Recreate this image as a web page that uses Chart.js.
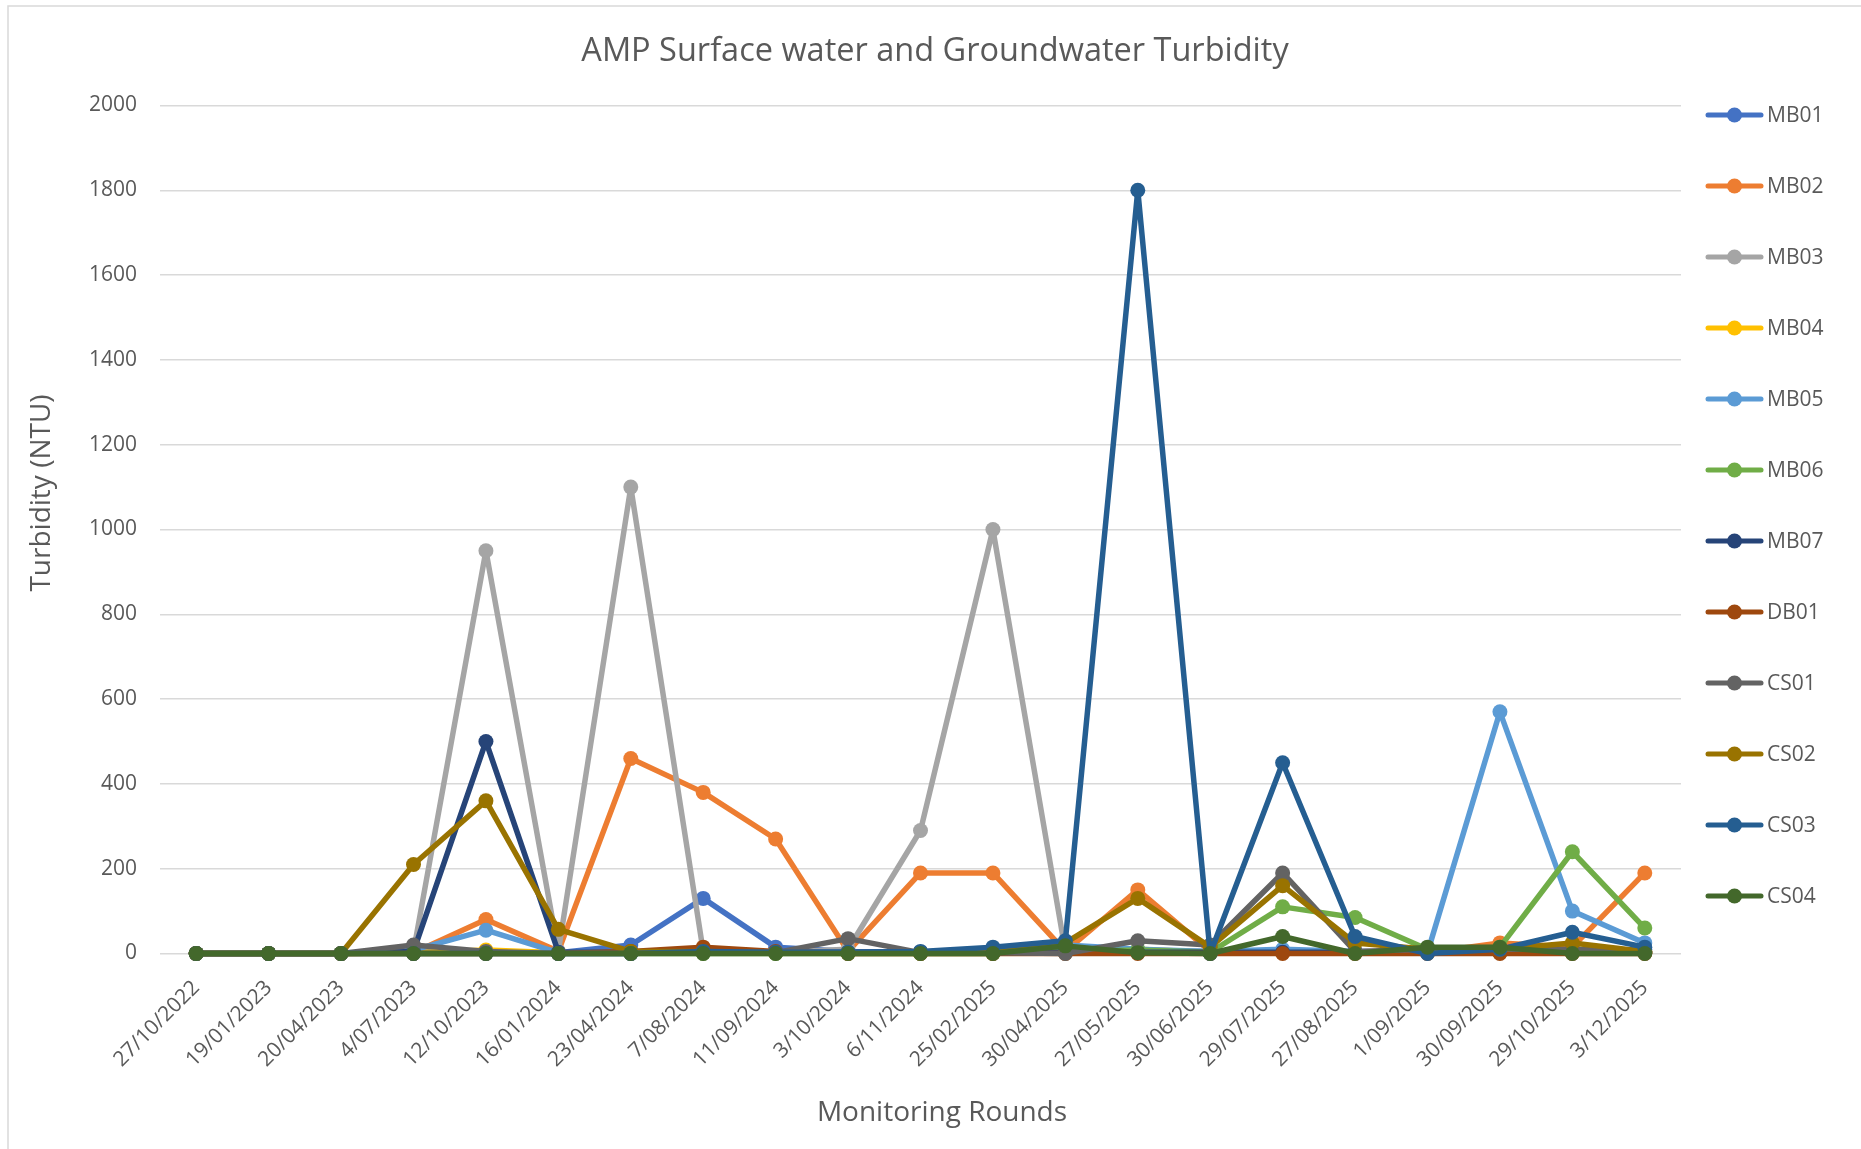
<!DOCTYPE html>
<html>
<head>
<meta charset="utf-8">
<title>AMP Surface water and Groundwater Turbidity</title>
<script src="https://cdn.jsdelivr.net/npm/chart.js@4.4.1/dist/chart.umd.min.js"></script>
<style>
    html, body { margin: 0; padding: 0; background: #fff; }
    #wrap { width: 1861px; height: 1149px; position: relative; }
</style>
</head>
<body>
<div id="wrap"><canvas id="chart"></canvas></div>
<script>
// --- data ---
const rounds = ['27/10/2022', '19/01/2023', '20/04/2023', '4/07/2023', '12/10/2023', '16/01/2024',
    '23/04/2024', '7/08/2024', '11/09/2024', '3/10/2024', '6/11/2024', '25/02/2025', '30/04/2025',
    '27/05/2025', '30/06/2025', '29/07/2025', '27/08/2025', '1/09/2025', '30/09/2025', '29/10/2025', '3/12/2025'];

const MB01 = [0, 0, 0, 5, 3, 2, 20, 130, 15, 5, 3, 5, 10, 5, 5, 5, 5, 3, 5, 5, 10];
const MB02 = [0, 0, 0, 2, 80, 5, 460, 380, 270, 5, 190, 190, 5, 150, 5, 2, 2, 2, 25, 15, 190];
const MB03 = [0, 0, 0, 5, 950, 5, 1100, 5, 3, 10, 290, 1000, 5, 5, 5, 5, 3, 3, 5, 5, 5];
const MB04 = [0, 0, 0, 2, 8, 2, 2, 2, 2, 2, 2, 2, 5, 10, 3, 3, 2, 2, 2, 2, 2];
const MB05 = [0, 0, 0, 8, 55, 2, 3, 3, 3, 3, 3, 5, 20, 10, 5, 10, 5, 2, 570, 100, 25];
const MB06 = [0, 0, 0, 0, 0, 0, 0, 0, 0, 0, 0, 0, 5, 8, 3, 110, 85, 10, 15, 240, 60];
const MB07 = [0, 0, 0, 5, 500, 3, 3, 3, 3, 3, 3, 3, 3, 3, 3, 3, 3, 3, 3, 3, 3];
const DB01 = [0, 0, 0, 0, 0, 0, 5, 15, 5, 0, 0, 0, 0, 0, 0, 0, 0, 0, 0, 0, 0];
const CS01 = [0, 0, 0, 20, 5, 0, 0, 5, 2, 35, 2, 2, 0, 30, 20, 190, 5, 10, 10, 10, 5];
const CS02 = [0, 0, 0, 210, 360, 57, 5, 5, 2, 2, 2, 2, 25, 130, 15, 160, 25, 10, 10, 25, 5];
const CS03 = [0, 0, 0, 0, 0, 0, 0, 5, 3, 3, 5, 15, 30, 1800, 0, 450, 40, 0, 10, 50, 15];
const CS04 = [0, 0, 0, 0, 0, 0, 0, 0, 0, 0, 0, 0, 18, 2, 0, 40, 0, 15, 15, 0, 0];

const seriesNames = ['MB01', 'MB02', 'MB03', 'MB04', 'MB05', 'MB06', 'MB07', 'DB01', 'CS01', 'CS02', 'CS03', 'CS04'];
const seriesData = [MB01, MB02, MB03, MB04, MB05, MB06, MB07, DB01, CS01, CS02, CS03, CS04];
const seriesColors = ['#4472C4', '#ED7D31', '#A5A5A5', '#FFC000', '#5B9BD5', '#70AD47',
    '#264478', '#9E480E', '#636363', '#997300', '#255E91', '#43682B'];

const yMin = 0, yMax = 2000, yStep = 200;

const chartTitle = 'AMP Surface water and Groundwater Turbidity';
const xTitle = 'Monitoring Rounds';
const yTitle = 'Turbidity (NTU)';

const FONT = '"Open Sans", "Segoe UI", "Noto Sans", sans-serif';
const TEXT = '#595959';
const GRID = '#d9d9d9';

// Excel-style frame, titles and legend (line + marker swatches)
const decorPlugin = {
    id: 'excelDecor',
    beforeDraw(chart) {
        const ctx = chart.ctx;
        ctx.save();
        ctx.fillStyle = '#fff';
        ctx.fillRect(0, 0, chart.width, chart.height);
        ctx.strokeStyle = GRID;
        ctx.lineWidth = 1.5;
        ctx.strokeRect(8, 6, chart.width + 20, chart.height + 20);
        ctx.restore();
    },
    afterDraw(chart) {
        const ctx = chart.ctx;
        ctx.save();
        ctx.fillStyle = TEXT;
        ctx.textAlign = 'center';
        ctx.textBaseline = 'middle';
        ctx.font = `32.5px ${FONT}`;
        ctx.fillText(chartTitle, 935, 52);
        ctx.font = `28px ${FONT}`;
        ctx.fillText(xTitle, 942, 1113);
        ctx.translate(42, 493);
        ctx.rotate(-Math.PI / 2);
        ctx.fillText(yTitle, 0, 0);
        ctx.restore();

        // legend
        ctx.save();
        ctx.font = `21px ${FONT}`;
        ctx.textAlign = 'left';
        ctx.textBaseline = 'middle';
        chart.data.datasets.forEach((ds, i) => {
            const y = 115 + i * 71;
            ctx.strokeStyle = ds.borderColor;
            ctx.lineWidth = 5;
            ctx.lineCap = 'round';
            ctx.beginPath();
            ctx.moveTo(1708, y); ctx.lineTo(1761, y);
            ctx.stroke();
            ctx.fillStyle = ds.borderColor;
            ctx.beginPath();
            ctx.arc(1734.5, y, 7.5, 0, Math.PI * 2);
            ctx.fill();
            ctx.fillStyle = TEXT;
            ctx.fillText(ds.label, 1767, y + 1);
        });
        ctx.restore();
    }
};

const datasets = seriesNames.map((name, i) => ({
    label: name,
    data: seriesData[i],
    borderColor: seriesColors[i],
    backgroundColor: seriesColors[i],
    borderWidth: 5.5,
    borderJoinStyle: 'round',
    borderCapStyle: 'round',
    pointRadius: 7.5,
    pointHoverRadius: 7.5,
    pointBorderWidth: 0,
    tension: 0,
    clip: false,
    order: seriesNames.length - i,   // later series painted on top, as in Excel
}));

new Chart(document.getElementById('chart'), {
    type: 'line',
    data: { labels: rounds, datasets },
    options: {
        responsive: true,
        maintainAspectRatio: false,
        animation: false,
        layout: { padding: { left: 8, top: 105.5, right: 180, bottom: 0 } },
        plugins: {
            legend: { display: false },
            title: { display: false },
            tooltip: { enabled: false }
        },
        scales: {
            x: {
                offset: true,
                grid: { display: false },
                border: { display: false },
                ticks: {
                    color: TEXT,
                    font: { family: FONT, size: 21 },
                    autoSkip: false,
                    minRotation: 45,
                    maxRotation: 45,
                    padding: 14
                },
                afterFit: (scale) => { scale.height = 195.5; }
            },
            y: {
                min: yMin,
                max: yMax,
                grid: { color: GRID, lineWidth: 1.5, drawTicks: false },
                border: { display: false },
                ticks: {
                    stepSize: yStep,
                    color: TEXT,
                    font: { family: FONT, size: 21 },
                    padding: 23,
                    callback: (v) => String(v)
                },
                afterFit: (scale) => { scale.width = 152; }
            }
        }
    },
    plugins: [decorPlugin]
});
</script>
</body>
</html>
